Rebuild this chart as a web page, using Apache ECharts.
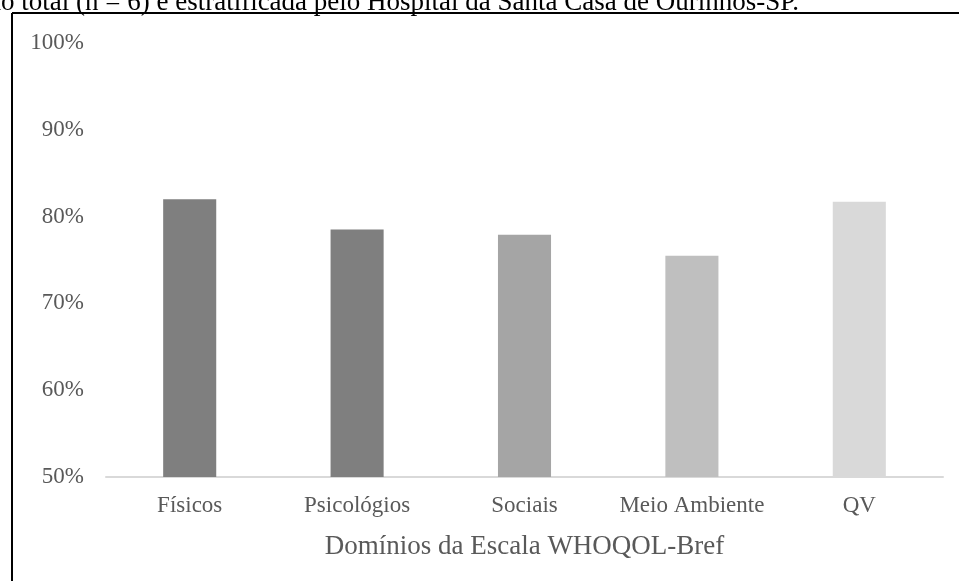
<!DOCTYPE html>
<html>
<head>
<meta charset="utf-8">
<script src="https://cdn.jsdelivr.net/npm/echarts@6/dist/echarts.min.js"></script>
<style>
  html, body { margin: 0; padding: 0; background: #fff; }
  #chart { width: 959px; height: 581px; }
</style>
</head>
<body>
<div id="chart"></div>
<script>
// WHOQOL-Bref domain scores (%)
const categories = ['Físicos', 'Psicológios', 'Sociais', 'Meio Ambiente', 'QV'];
const scores = [82.0, 78.5, 77.9, 75.5, 81.7];
const barColors = ['#7f7f7f', '#7f7f7f', '#a5a5a5', '#bfbfbf', '#d9d9d9'];
const axisTitle = 'Domínios da Escala WHOQOL-Bref';
const caption = 'ão total (n = 6) e estratificada pelo Hospital da Santa Casa de Ourinhos-SP.';

const FONT = '"Liberation Serif", "Times New Roman", serif';
const chart = echarts.init(document.getElementById('chart'), null, { renderer: 'canvas' });

chart.setOption({
  animation: false,
  backgroundColor: '#ffffff',
  grid: { left: 106, right: 16, top: 43, bottom: 104 },
  xAxis: {
    type: 'category',
    data: categories,
    name: axisTitle,
    nameLocation: 'middle',
    nameGap: 56,
    nameTextStyle: { fontFamily: FONT, fontSize: 27, color: '#595959' },
    axisLine: { lineStyle: { color: '#d9d9d9', width: 2 } },
    axisTick: { show: false },
    axisLabel: { interval: 0, fontFamily: FONT, fontSize: 23, color: '#595959', margin: 17 }
  },
  yAxis: {
    type: 'value',
    min: 50,
    max: 100,
    interval: 10,
    axisLine: { show: false },
    axisTick: { show: false },
    splitLine: { show: false },
    axisLabel: { formatter: '{value}%', fontFamily: FONT, fontSize: 23, color: '#595959', margin: 22 }
  },
  series: [{
    type: 'bar',
    data: scores.map((v, i) => ({ value: v, itemStyle: { color: barColors[i] } })),
    barWidth: '31.7%'
  }],
  graphic: [
    {
      type: 'text',
      left: -11,
      top: -11,
      style: { text: caption, fontFamily: FONT, fontSize: 27, fill: '#000000' }
    },
    {
      type: 'line',
      shape: { x1: 12, y1: 13, x2: 959, y2: 13 },
      style: { stroke: '#000000', lineWidth: 2 }
    },
    {
      type: 'line',
      shape: { x1: 12, y1: 13, x2: 12, y2: 581 },
      style: { stroke: '#000000', lineWidth: 2 }
    }
  ]
});
</script>
</body>
</html>
